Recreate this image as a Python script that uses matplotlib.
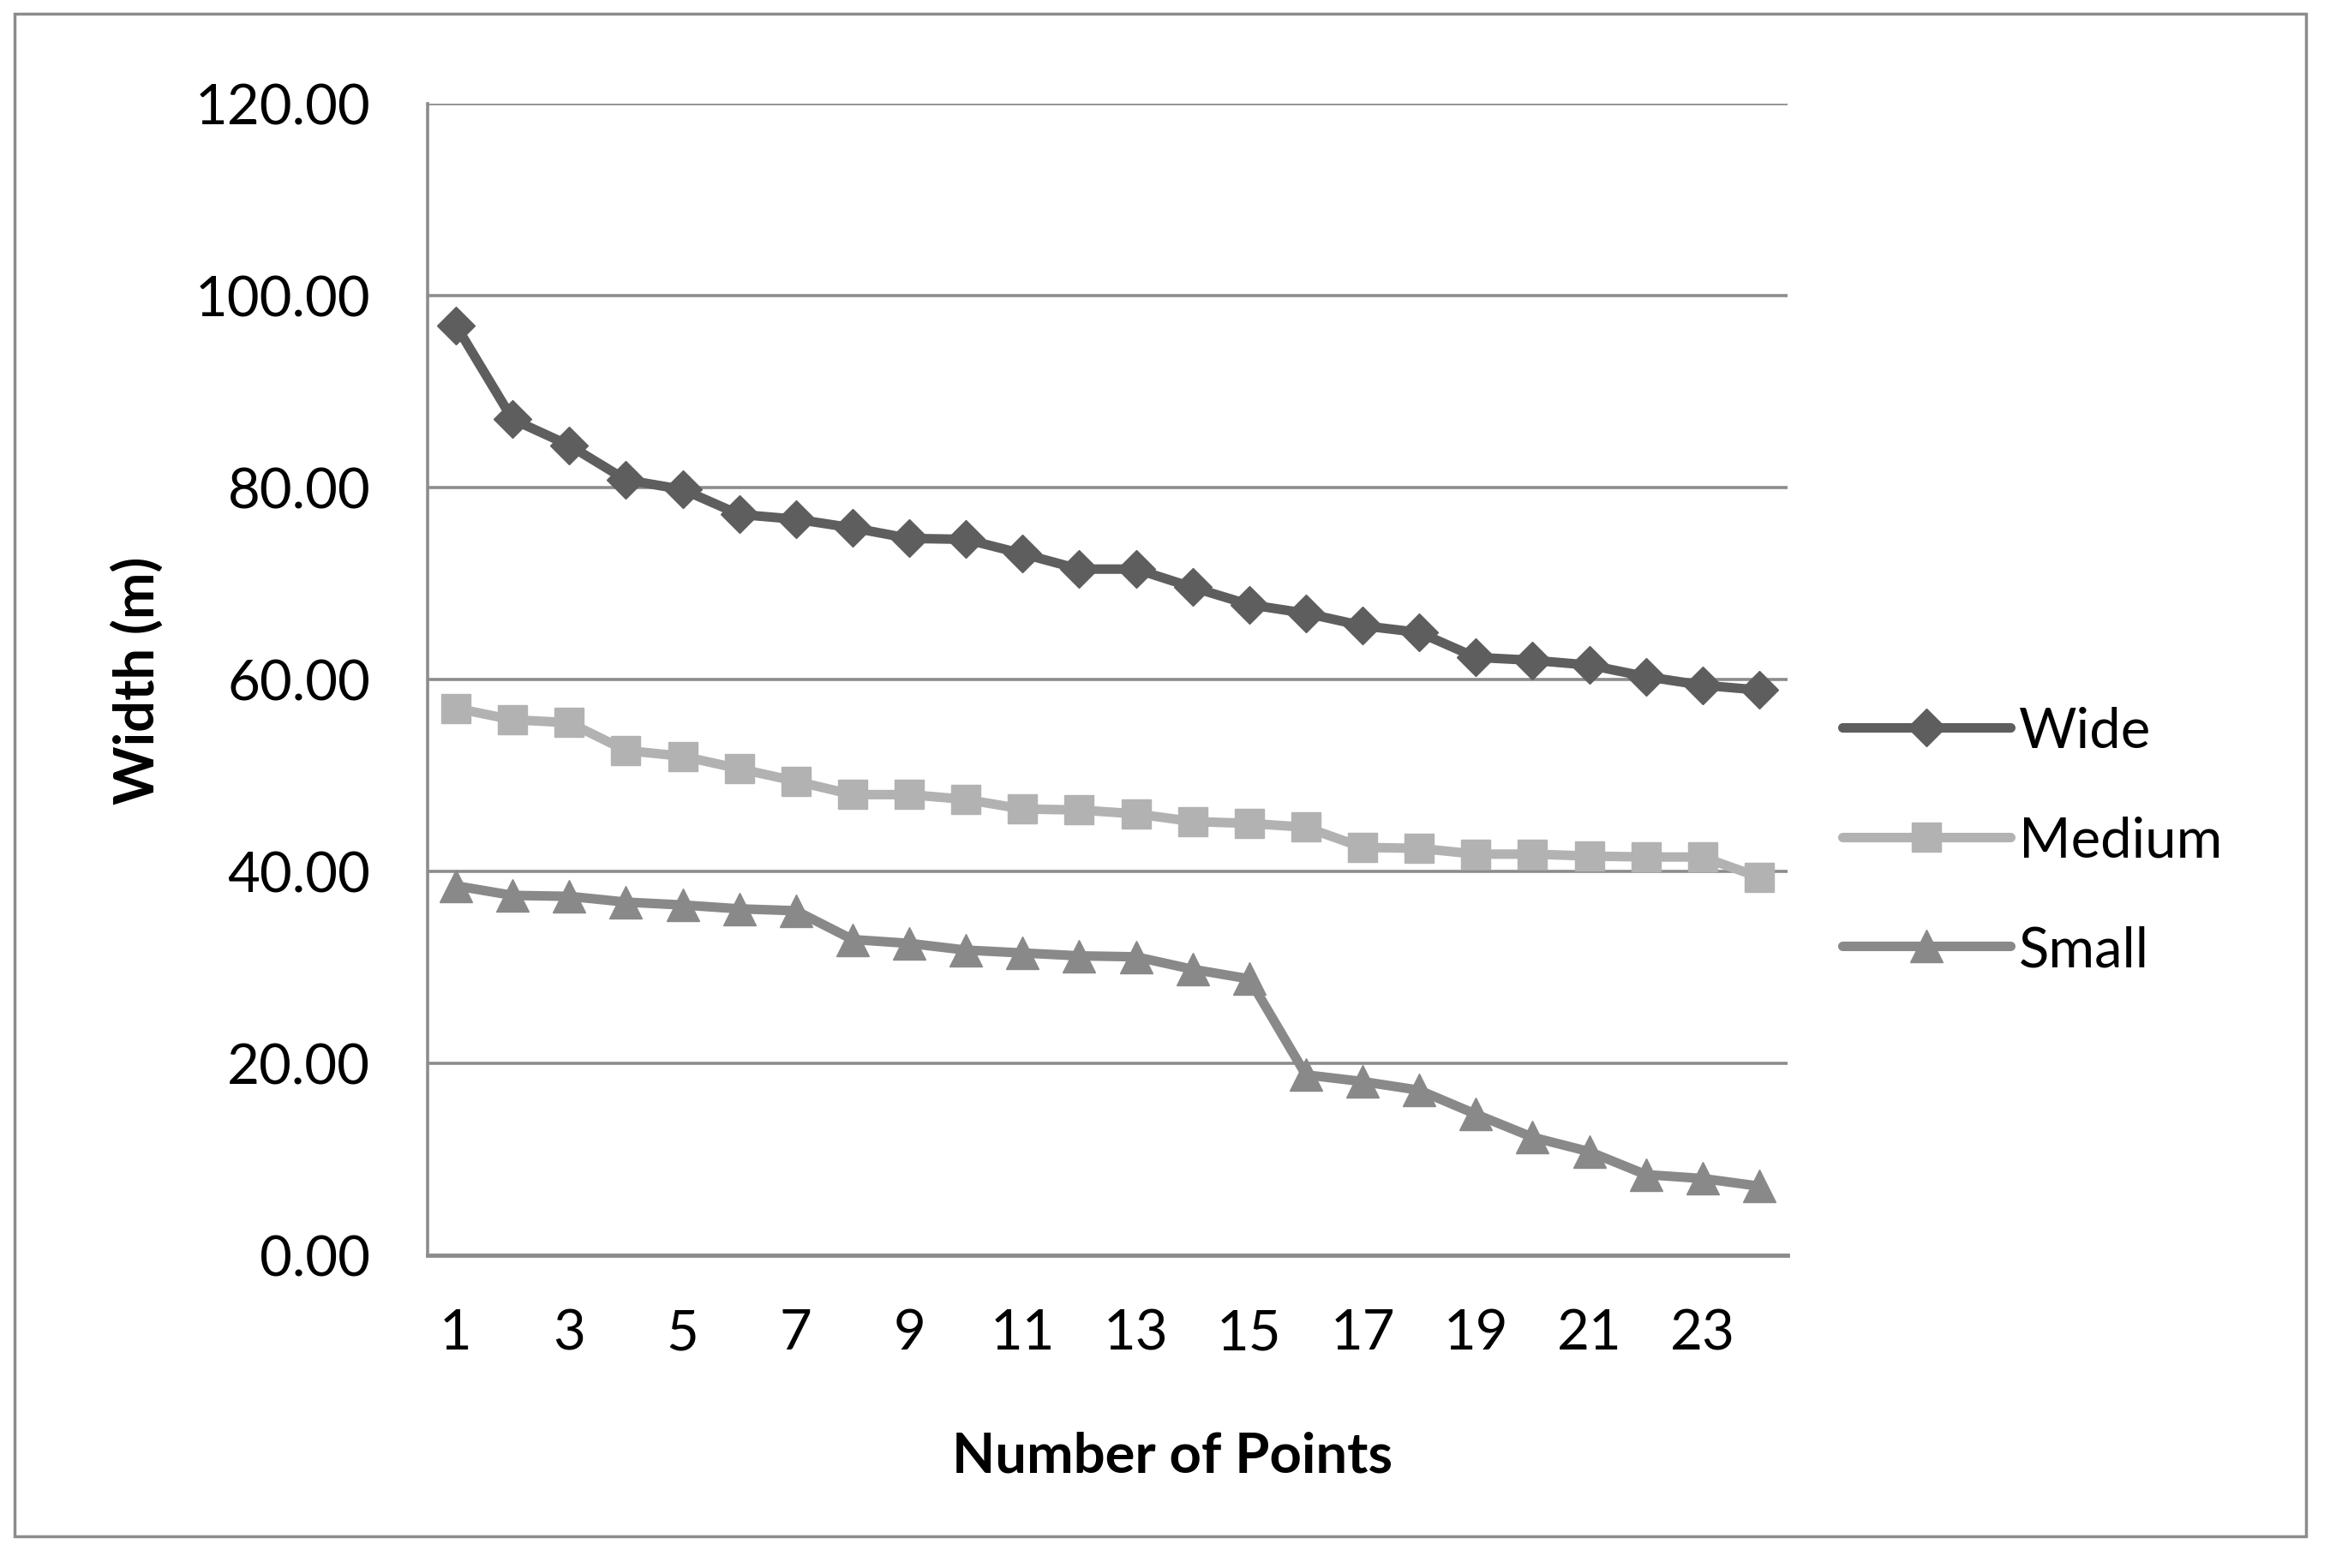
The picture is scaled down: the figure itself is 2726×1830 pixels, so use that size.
import matplotlib
matplotlib.use("Agg")
import matplotlib.pyplot as plt
from matplotlib.patches import Rectangle

points = list(range(1, 25))
wide = [96.9, 87.1, 84.4, 80.8, 79.8, 77.2, 76.7, 75.8, 74.7, 74.6, 73.1, 71.5,
        71.5, 69.6, 67.8, 66.9, 65.6, 64.9, 62.3, 62.0, 61.5, 60.3, 59.4, 58.9]
medium = [57.0, 55.8, 55.5, 52.6, 52.0, 50.7, 49.4, 48.0, 48.0, 47.5, 46.5, 46.4,
          46.0, 45.2, 45.0, 44.6, 42.5, 42.4, 41.8, 41.8, 41.6, 41.5, 41.5, 39.4]
small = [38.5, 37.5, 37.4, 36.8, 36.5, 36.1, 35.9, 32.9, 32.5, 31.8, 31.5, 31.2,
         31.1, 29.8, 28.8, 18.8, 18.1, 17.2, 14.7, 12.3, 10.8, 8.4, 8.0, 7.2]
y_ticks = [0, 20, 40, 60, 80, 100, 120]
x_ticks = list(range(1, 25, 2))

plt.rcParams['font.family'] = ['Lato', 'DejaVu Sans']

W, H = 2726, 1831
fig = plt.figure(figsize=(W / 100, H / 100), dpi=100)
fig.patch.set_facecolor('white')
fig.patches.append(Rectangle((17 / W, 1 - 1794 / H), (2691 - 17) / W, (1794 - 17) / H,
                             transform=fig.transFigure, fill=False,
                             edgecolor='#8c8c8c', linewidth=2.5))

left, right, top, bottom = 499, 2086, 122, 1466
ax = fig.add_axes([left / W, 1 - bottom / H, (right - left) / W, (bottom - top) / H])

grid_c = '#8c8c8c'
for v in y_ticks:
    ax.axhline(v, color=grid_c, linewidth=2.6, zorder=1)

lw = 8
ax.plot(points, wide, color='#5e5e5e', linewidth=lw, marker='D', markersize=22,
        label='Wide', zorder=3, solid_joinstyle='round', solid_capstyle='round')
ax.plot(points, medium, color='#b2b2b2', linewidth=lw, marker='s', markersize=25,
        label='Medium', zorder=3, solid_joinstyle='round', solid_capstyle='round')
ax.plot(points, small, color='#898989', linewidth=lw, marker='^', markersize=27,
        label='Small', zorder=3, solid_joinstyle='round', solid_capstyle='round')

ax.set_xlim(0.5, 24.5)
ax.set_ylim(0, 120)
ax.set_xticks(x_ticks)
ax.set_xticklabels([str(t) for t in x_ticks])
ax.set_yticks(y_ticks)
ax.set_yticklabels([f"{v:.2f}" for v in y_ticks])
fs = 47
ax.tick_params(axis='both', length=0, labelsize=fs, colors='black')
ax.tick_params(axis='y', pad=48)
ax.tick_params(axis='x', pad=44)

for s in ['top', 'right']:
    ax.spines[s].set_visible(False)
ax.spines['left'].set_color(grid_c)
ax.spines['left'].set_linewidth(2.6)
ax.spines['bottom'].set_color(grid_c)
ax.spines['bottom'].set_linewidth(3.5)

ax.set_ylabel('Width (m)', fontsize=fs, fontweight='bold', va='center')
ax.yaxis.set_label_coords((160 - left) / (right - left), 0.5)
ax.set_xlabel('Number of Points', fontsize=fs, fontweight='bold', va='center')
ax.xaxis.set_label_coords((1368 - left) / (right - left), -(1700 - bottom) / (bottom - top))

fig.legend(loc='center left', bbox_to_anchor=(2150 / W, 1 - 982 / H), frameon=False,
           fontsize=fs, handlelength=3.0, handletextpad=0.15, labelspacing=1.05,
           borderaxespad=0, borderpad=0)

fig.savefig('out.png', dpi=100, facecolor='white')
